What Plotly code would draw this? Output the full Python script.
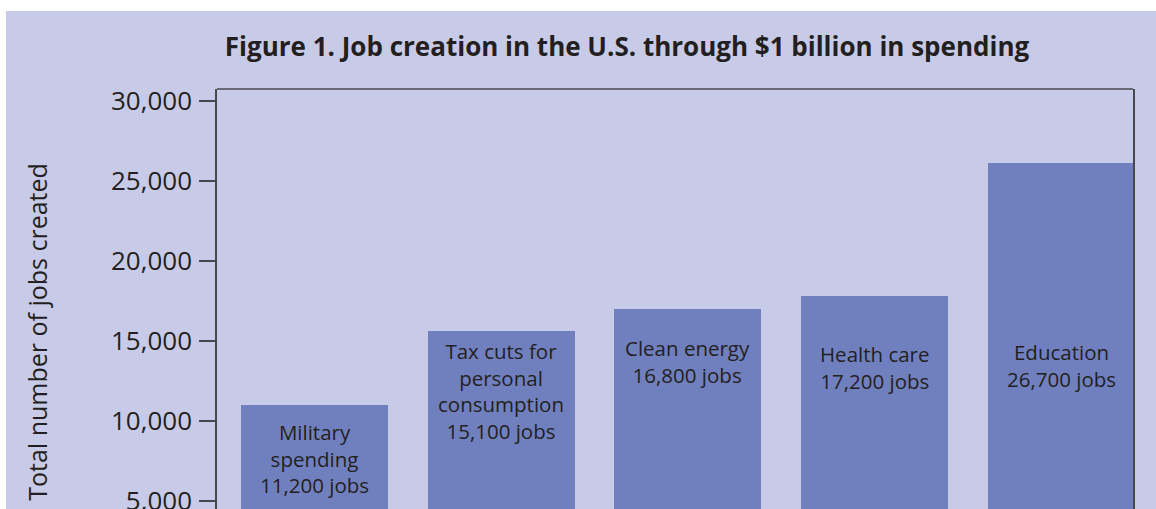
import plotly.graph_objects as go

# ---- data ----
categories = ["Military spending", "Tax cuts for personal consumption",
              "Clean energy", "Health care", "Education"]
bar_values = [10970, 15590, 16970, 17780, 26090]
label_texts = ["Military<br>spending<br>11,200 jobs",
               "Tax cuts for<br>personal<br>consumption<br>15,100 jobs",
               "Clean energy<br>16,800 jobs",
               "Health care<br>17,200 jobs",
               "Education<br>26,700 jobs"]
tick_vals = [5000, 10000, 15000, 20000, 25000, 30000]
title_text = "Figure 1. Job creation in the U.S. through $1 billion in spending"
y_title = "Total number of jobs created"

# ---- style / layout ----
BG = "#c8cbe7"
BAR = "#7080bf"
INK = "#231f20"
AXIS = "#48474f"
label_tops = [10300, 15350, 15530, 15160, 15290]  # annotation anchor (data units)

fig = go.Figure()
fig.add_trace(go.Bar(x=categories, y=bar_values, width=0.787,
                     marker=dict(color=BAR, line=dict(width=0)),
                     hoverinfo="skip"))

for c, t, yt in zip(categories, label_texts, label_tops):
    fig.add_annotation(x=c, y=yt, xref="x", yref="y", text=t, showarrow=False,
                       yanchor="top", xanchor="center", align="center",
                       font=dict(family="Open Sans", size=20.5, color=INK))

fig.add_annotation(x=-0.1965, y=0.422, xref="paper", yref="paper",
                   text=y_title, showarrow=False, textangle=-90,
                   xanchor="center", yanchor="middle",
                   font=dict(family="Open Sans", size=25, color=INK))

# top border of plot box
fig.add_shape(type="line", xref="paper", yref="paper", x0=0, x1=1, y0=1, y1=1,
              line=dict(color=AXIS, width=1.5))
# white strips at top and left
fig.add_shape(type="rect", xref="paper", yref="paper", x0=-0.3, x1=1.1,
              y0=1+(89-11)/420, y1=1.3, fillcolor="white", line=dict(width=0),
              layer="above")
fig.add_shape(type="rect", xref="paper", yref="paper", x0=-0.3, x1=(6-217)/916,
              y0=-0.1, y1=1.3, fillcolor="white", line=dict(width=0),
              layer="above")

fig.update_layout(
    width=1156, height=509,
    margin=dict(l=217, r=23, t=89, b=0, pad=0, autoexpand=False),
    paper_bgcolor=BG, plot_bgcolor=BG,
    showlegend=False,
    bargap=0,
    title=dict(text="<b>" + title_text + "</b>", xref="container", yref="container",
               x=0.5424, y=1-47/509, xanchor="center", yanchor="middle",
               font=dict(family="Open Sans", size=26, color=INK)),
    xaxis=dict(type="category", range=[-0.5222, 4.384], showticklabels=False,
               ticks="", showline=False, showgrid=False, zeroline=False,
               fixedrange=True, automargin=False),
    yaxis=dict(range=[4469, 30719], tickvals=tick_vals, tickformat=",d",
               ticks="outside", ticklen=16, tickwidth=1.5, tickcolor=AXIS,
               showline=True, linecolor=AXIS, linewidth=1.5, mirror=True,
               showgrid=False, zeroline=False, ticklabelstandoff=2,
               ticklabeloverflow="allow", automargin=False,
               tickfont=dict(family="Open Sans", size=26, color=INK)),
)

fig.write_html("out.html", config={"displayModeBar": False},
               post_script="document.body.style.margin='0';")
